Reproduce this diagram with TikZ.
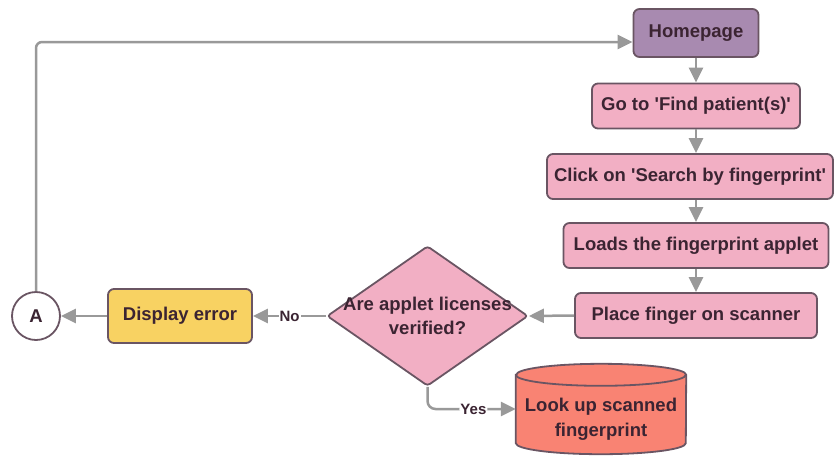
\documentclass[tikz,border=0pt]{standalone}
\usepackage{fontspec}
\setmainfont{Liberation Sans}
\usetikzlibrary{arrows.meta,shapes.geometric,calc}
\definecolor{ink}{HTML}{3B2432}
\definecolor{boxline}{HTML}{6A5563}
\definecolor{edge}{HTML}{999999}
\definecolor{pinkfill}{HTML}{F2AFC4}
\definecolor{purplefill}{HTML}{A88AB0}
\definecolor{yellowfill}{HTML}{F8D262}
\definecolor{salmonfill}{HTML}{F98373}
\newcommand{\sq}{\textquotesingle}
\begin{document}
\begin{tikzpicture}[x=1pt,y=-1pt,
  txt/.style={font=\bfseries\fontsize{18.5}{24}\selectfont, text=ink, align=center},
  box/.style={txt, draw=boxline, line width=1.8pt, rounded corners=6pt,
    fill=pinkfill, inner sep=0pt, minimum height=45pt},
  decision/.style={diamond, draw=boxline, line width=1.8pt, fill=pinkfill,
    rounded corners=3pt, inner sep=0pt, aspect=1.44,
    minimum width=201pt, minimum height=140pt},
  flow/.style={draw=edge, line width=2.5pt, -{Triangle[length=15pt,width=14pt]}},
  lbl/.style={fill=white, inner sep=1pt, text=ink,
    font=\bfseries\fontsize{15}{18}\selectfont},
  cyl/.style={draw=boxline, line width=1.8pt, fill=salmonfill}
]
\useasboundingbox (0,0) rectangle (835,459);

% process steps
\node[box, fill=purplefill, minimum width=125pt, minimum height=48pt] (hp) at (696,33) {Homepage};
\node[box, minimum width=208pt] (goto) at (696,106) {Go to \sq Find patient(s)\sq};
\node[box, minimum width=286pt] (click) at (690,176.5) {Click on \sq Search by fingerprint\sq};
\node[box, minimum width=265pt] (load) at (696,245.5) {Loads the fingerprint applet};
\node[box, minimum width=242pt] (place) at (696,315.5) {Place finger on scanner};

% decision
\node[decision] (q) at (427.5,316) {};
\node[txt, font=\bfseries\fontsize{18.5}{23.5}\selectfont] (qtext) at (q) {Are applet licenses\\verified?};

% error path
\node[box, fill=yellowfill, minimum width=144pt, minimum height=54pt] (err) at (180,316) {Display error};
\node[txt, circle, draw=boxline, line width=1.8pt, fill=white, minimum size=48pt, inner sep=0pt] (A) at (36,316) {A};

% database lookup
\node[minimum width=170pt, minimum height=90pt, inner sep=0pt] (db) at (601,409) {};
\draw[cyl] ($(db.north west)+(0,11)$) -- ($(db.south west)+(0,-11)$)
  arc[start angle=180, end angle=0, x radius=85, y radius=11]
  -- ($(db.north east)+(0,11)$)
  arc[start angle=0, end angle=-180, x radius=85, y radius=11] -- cycle;
\draw[boxline, line width=1.8pt] ($(db.north west)+(0,11)$)
  arc[start angle=180, end angle=0, x radius=85, y radius=11];
\node[txt, font=\bfseries\fontsize{18.5}{25}\selectfont] (dbtext) at ($(db.center)+(0,10.5)$) {Look up scanned\\fingerprint};

% connectors
\draw[flow] (hp.south) -- (goto.north);
\draw[flow] (goto.south) -- (goto.south |- click.north);
\draw[flow] (goto.south |- click.south) -- (load.north);
\draw[flow] (load.south) -- (place.north);
\draw[flow] (place.west) -- (q.east);
\draw[flow] (q.west) -- node[lbl] {No} (err.east);
\draw[flow] (err.west) -- (A.east);
\coordinate (hpin) at ($(hp.west)+(0,9)$);
\draw[flow, rounded corners=6pt] (A.north) |- (hpin);
\draw[flow, rounded corners=8pt] (q.south) |- node[lbl, pos=0.76] {Yes} (db.west);
\end{tikzpicture}
\end{document}
